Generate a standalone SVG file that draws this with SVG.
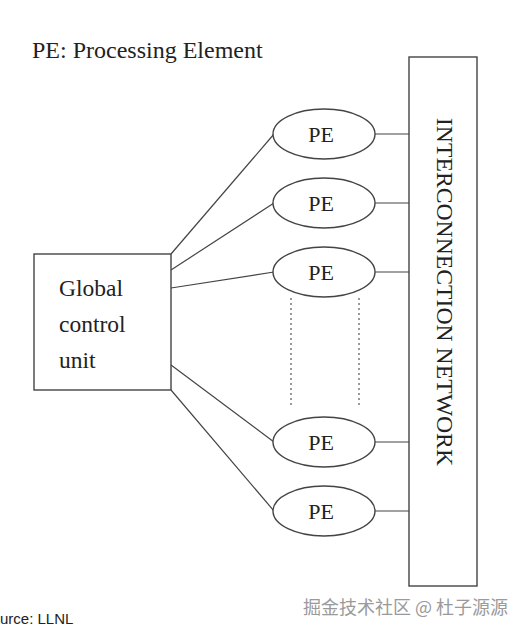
<svg xmlns="http://www.w3.org/2000/svg" width="523" height="635" viewBox="0 0 523 635">
<style>
.t{font-family:"Liberation Serif","Times New Roman",serif;fill:#222}
.s{fill:#fff;stroke:#444;stroke-width:1.4}
.c{fill:none;stroke:#444;stroke-width:1.2}
.d{fill:none;stroke:#555;stroke-width:1.2;stroke-dasharray:2 3}
</style>
<rect width="523" height="635" fill="#fff"/>
<text class="t" x="32" y="58" font-size="24">PE: Processing Element</text>
<g id="connectors">
<line class="c" x1="171" y1="254" x2="274" y2="134"/>
<line class="c" x1="171" y1="270" x2="274" y2="203"/>
<line class="c" x1="171" y1="288" x2="274" y2="272"/>
<line class="c" x1="171" y1="365" x2="274" y2="442"/>
<line class="c" x1="171" y1="390" x2="274" y2="511"/>
<line class="c" x1="375" y1="134" x2="409" y2="134"/>
<line class="c" x1="375" y1="203" x2="409" y2="203"/>
<line class="c" x1="375" y1="272" x2="409" y2="272"/>
<line class="c" x1="375" y1="442" x2="409" y2="442"/>
<line class="c" x1="375" y1="511" x2="409" y2="511"/>
<line class="d" x1="291" y1="298" x2="291" y2="408"/>
<line class="d" x1="359" y1="298" x2="359" y2="408"/>
</g>
<g id="gcu">
<rect class="s" x="34" y="254" width="137" height="136"/>
<text class="t" x="59" y="296" font-size="23.5">Global</text>
<text class="t" x="59" y="332" font-size="23.5">control</text>
<text class="t" x="59" y="368" font-size="23.5">unit</text>
</g>
<g id="pe1"><ellipse class="s" cx="324" cy="134" rx="51" ry="25"/><text class="t" x="321" y="142" font-size="22" text-anchor="middle">PE</text></g>
<g id="pe2"><ellipse class="s" cx="324" cy="203" rx="51" ry="25"/><text class="t" x="321" y="211" font-size="22" text-anchor="middle">PE</text></g>
<g id="pe3"><ellipse class="s" cx="324" cy="272" rx="51" ry="25"/><text class="t" x="321" y="280" font-size="22" text-anchor="middle">PE</text></g>
<g id="pe4"><ellipse class="s" cx="324" cy="442" rx="51" ry="25"/><text class="t" x="321" y="450" font-size="22" text-anchor="middle">PE</text></g>
<g id="pe5"><ellipse class="s" cx="324" cy="511" rx="51" ry="25"/><text class="t" x="321" y="519" font-size="22" text-anchor="middle">PE</text></g>
<g id="network">
<rect class="s" x="409" y="57" width="68" height="529"/>
<text class="t" font-size="23.7" text-anchor="middle" transform="translate(437,292) rotate(90)">INTERCONNECTION NETWORK</text>
</g>
<text x="0" y="624" font-family="Liberation Sans, Arial, sans-serif" font-size="15" fill="#222">urce: LLNL</text>
<text x="303" y="614" font-family="'Noto Sans CJK SC', sans-serif" font-size="18" fill="#9a9a9a">掘金技术社区 @ 杜子源源</text>
</svg>
